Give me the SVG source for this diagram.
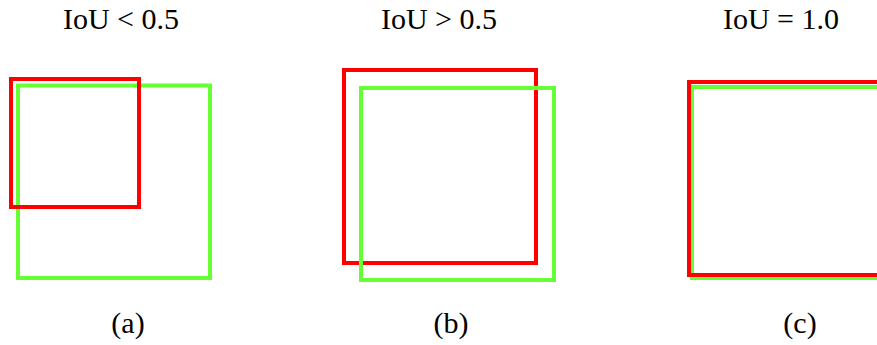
<svg xmlns="http://www.w3.org/2000/svg" width="877" height="345" viewBox="0 0 877 345">
<style>
text{font-family:"Liberation Serif","Times New Roman",serif;font-size:30px;fill:#000;text-anchor:middle}
.r{fill:none;stroke:#ff0000;stroke-width:4}
.g{fill:none;stroke:#66ff33;stroke-width:4}
</style>
<rect width="877" height="345" fill="#fff"/>
<g id="panel-a">
<text x="121" y="29">IoU &lt; 0.5</text>
<rect class="g" x="18" y="85.5" width="192" height="192.5"/>
<rect class="r" x="11" y="79" width="128" height="128"/>
<text x="128" y="333">(a)</text>
</g>
<g id="panel-b">
<text x="439" y="29">IoU &gt; 0.5</text>
<rect class="r" x="344" y="70" width="192" height="193"/>
<rect class="g" x="361" y="88" width="193" height="192"/>
<text x="451" y="333">(b)</text>
</g>
<g id="panel-c">
<text x="781" y="29">IoU = 1.0</text>
<rect class="g" x="692" y="87" width="193" height="191"/>
<rect class="r" x="689" y="82" width="193" height="193"/>
<text x="800" y="333">(c)</text>
</g>
<g id="connectors"></g>
</svg>
